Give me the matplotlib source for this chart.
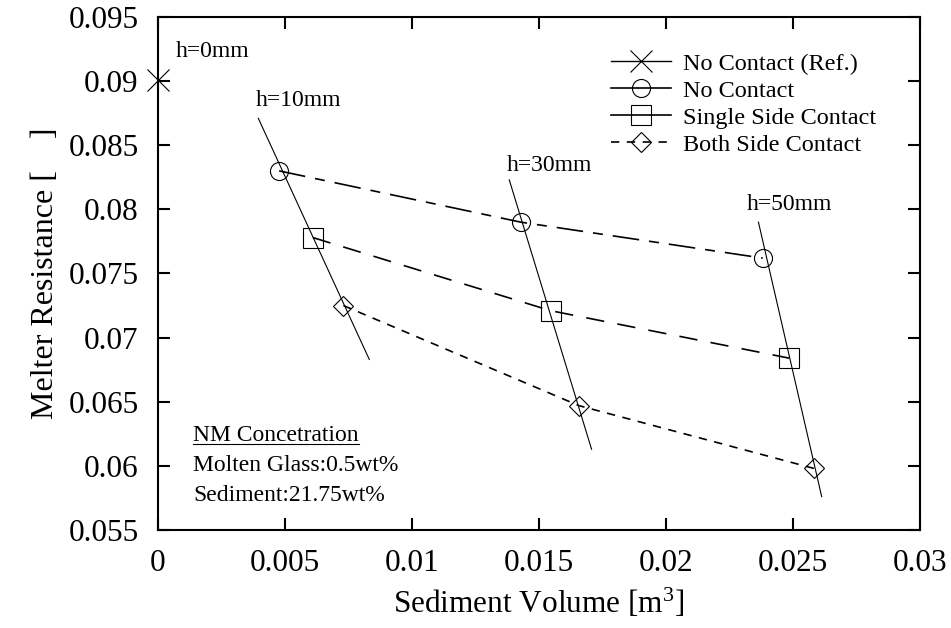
import matplotlib
matplotlib.use("Agg")
import matplotlib.pyplot as plt
from matplotlib.lines import Line2D

plt.rcParams['font.family'] = ['Liberation Serif', 'DejaVu Serif']
plt.rcParams['mathtext.fontset'] = 'custom'
plt.rcParams['mathtext.rm'] = 'Liberation Serif'
plt.rcParams['mathtext.it'] = 'Liberation Serif:italic'

# ---- data ----
ref_x = [0.0]
ref_y = [0.0901]

no_contact_x = [0.00477, 0.01429, 0.02381]
no_contact_y = [0.0830, 0.0790, 0.0762]

single_x = [0.00610, 0.01546, 0.02485]
single_y = [0.0778, 0.0721, 0.0684]

both_x = [0.00730, 0.01657, 0.02583]
both_y = [0.0725, 0.0647, 0.0598]

# iso-height guide lines (start, end)
h_labels = ["h=0mm", "h=10mm", "h=30mm", "h=50mm"]
h_label_x = [0.0007, 0.00385, 0.01372, 0.02319]
h_label_y = [0.0923, 0.0885, 0.0834, 0.0804]
h_line_x = [[0.00395, 0.00832], [0.01383, 0.01707], [0.02364, 0.02613]]
h_line_y = [[0.0871, 0.0683], [0.0823, 0.0613], [0.0790, 0.0576]]

x_ticks = [0, 0.005, 0.01, 0.015, 0.02, 0.025, 0.03]
x_ticklabels = ["0", "0.005", "0.01", "0.015", "0.02", "0.025", "0.03"]
y_ticks = [0.055, 0.06, 0.065, 0.07, 0.075, 0.08, 0.085, 0.09, 0.095]
y_ticklabels = ["0.055", "0.06", "0.065", "0.07", "0.075", "0.08", "0.085", "0.09", "0.095"]

note_title = "NM Concetration"
note_lines = ["Molten Glass:0.5wt%", "Sediment:21.75wt%"]

# ---- figure ----
fig = plt.figure(figsize=(9.51, 6.28), dpi=100)
ax = fig.add_axes([0.1661, 0.156, 0.8013, 0.817])

lw = 1.0
mew = 0.8
ax.plot(ref_x, ref_y, color='black', marker='x', markersize=16, mew=mew,
        linestyle='-', lw=lw, clip_on=False, label='No Contact (Ref.)', zorder=5)
ax.plot(no_contact_x, no_contact_y, color='black', marker='o', markersize=13,
        fillstyle='none', mew=mew, lw=1.2, dashes=(16, 6, 6, 6),
        label='No Contact')
ax.plot(single_x, single_y, color='black', marker='s', markersize=15,
        fillstyle='none', mew=mew, lw=1.2, dashes=(11, 8),
        label='Single Side Contact')
ax.plot(both_x, both_y, color='black', marker='D', markersize=10.5,
        fillstyle='none', mew=mew, lw=1.2, dashes=(5, 4.5),
        label='Both Side Contact')

for xs, ys in zip(h_line_x, h_line_y):
    ax.plot(xs, ys, color='black', lw=0.8)

for t, xx, yy in zip(h_labels, h_label_x, h_label_y):
    ax.text(xx, yy, t, fontsize=17, va='center', ha='left')

ax.set_xlim(0, 0.03)
ax.set_ylim(0.055, 0.095)
ax.set_xticks(x_ticks)
ax.set_xticklabels(x_ticklabels)
ax.set_yticks(y_ticks)
ax.set_yticklabels(y_ticklabels)
ax.tick_params(direction='in', length=8.5, width=1.5, labelsize=22.5,
               top=True, right=True, pad=14)
for s in ax.spines.values():
    s.set_linewidth(1.5)

ax.set_xlabel("Sediment Volume [m$^3$]", fontsize=22.5, labelpad=6)
ax.set_ylabel("Melter Resistance [    ]", fontsize=23, labelpad=6)

# legend
handles = [
    Line2D([], [], color='black', marker='x', markersize=16, mew=mew, lw=lw),
    Line2D([], [], color='black', marker='o', markersize=13, fillstyle='none', mew=mew, lw=1.2),
    Line2D([], [], color='black', marker='s', markersize=15, fillstyle='none', mew=mew, lw=1.2),
    Line2D([], [], color='black', marker='D', markersize=10.5, fillstyle='none', mew=mew, lw=1.2,
           dashes=(5, 4.5)),
]
labels = ['No Contact (Ref.)', 'No Contact', 'Single Side Contact', 'Both Side Contact']
ax.legend(handles, labels, loc='upper left', bbox_to_anchor=(0.595, 0.93),
          frameon=False, fontsize=17.5, handlelength=2.45, handletextpad=0.5,
          labelspacing=0.2, borderpad=0, borderaxespad=0)

# note text
tx = 0.00139
t1 = ax.text(tx, 0.06234, note_title, fontsize=17, va='center', ha='left')
ax.text(tx, 0.0600, note_lines[0], fontsize=17, va='center', ha='left')
ax.text(tx, 0.05766, note_lines[1], fontsize=17, va='center', ha='left')

fig.canvas.draw()
bb = t1.get_window_extent(renderer=fig.canvas.get_renderer())
inv = ax.transData.inverted()
(x0, y0) = inv.transform((bb.x0, bb.y0 + 2))
(x1, _) = inv.transform((bb.x1, bb.y0 + 2))
ax.plot([x0, x1], [y0, y0], color='black', lw=0.8)

fig.savefig("out.png", dpi=100)
